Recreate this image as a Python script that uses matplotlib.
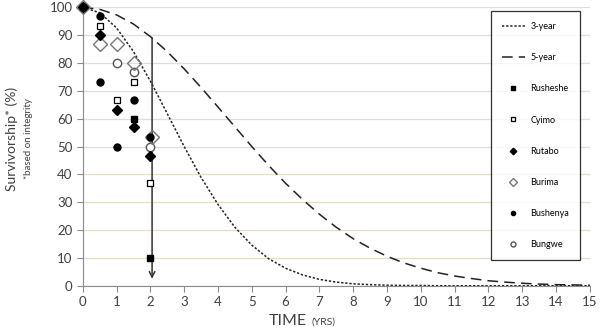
import matplotlib.pyplot as plt

# model curves (survivorship %, every half year)
t_curve = [0, 0.5, 1, 1.5, 2, 2.5, 3, 3.5, 4, 4.5, 5, 5.5, 6, 6.5, 7, 7.5,
           8, 8.5, 9, 9.5, 10, 10.5, 11, 11.5, 12, 12.5, 13, 13.5, 14, 14.5, 15]
three_year = [100, 98.1, 92.6, 84.1, 73.5, 61.8, 50, 38.9, 29.2, 21.0, 14.6, 9.7,
              6.3, 3.9, 2.3, 1.3, 0.7, 0.4, 0.2, 0.1, 0.1, 0, 0, 0, 0, 0, 0, 0, 0, 0, 0]
five_year = [100, 99.3, 97.3, 94.0, 89.5, 84.1, 77.9, 71.2, 64.2, 57.1, 50, 43.2,
             36.8, 31.0, 25.7, 21.0, 16.9, 13.5, 10.6, 8.2, 6.3, 4.7, 3.5, 2.6,
             1.8, 1.3, 0.9, 0.6, 0.4, 0.3, 0.2]

# observed survivorship per site
rusheshe_t = [0, 1.5, 2]
rusheshe = [100, 60, 10]
cyimo_t = [0, 0.5, 1, 1.5, 2]
cyimo = [100, 93.3, 66.7, 73.3, 37]
rutabo_t = [0, 0.5, 1, 1.5, 2]
rutabo = [100, 90, 63.3, 57, 46.7]
burima_t = [0, 0.5, 1, 1.5, 2.05]
burima = [100, 86.7, 86.7, 80, 53.3]
bushenya_t = [0, 0.5, 0.5, 1, 1.5, 2]
bushenya = [100, 97, 73.3, 50, 66.7, 53.3]
bungwe_t = [0, 1, 1.5, 2]
bungwe = [100, 80, 76.7, 50]

plt.rcParams['font.family'] = ['Lato', 'DejaVu Sans']

fig = plt.figure(figsize=(6, 3.35), dpi=100)
ax = fig.add_axes([0.138, 0.147, 0.845, 0.831])

ink = '#222222'
ax.plot(t_curve, three_year, color=ink, lw=1.1, ls=(0, (1.5, 1.2)), label='3-year')
ax.plot(t_curve, five_year, color=ink, lw=1.1, ls=(0, (7, 4)), label='5-year')

pts = dict(ls='none', clip_on=False, zorder=4)
ax.plot(rusheshe_t, rusheshe, marker='s', ms=4, color='black', label='Rusheshe', **pts)
ax.plot(cyimo_t, cyimo, marker='s', ms=4, mfc='white', mec='black', mew=0.9, label='Cyimo', **pts)
ax.plot(bungwe_t, bungwe, marker='o', ms=6, mfc='white', mec='#555555', mew=1, label='Bungwe', **pts)
ax.plot(burima_t, burima, marker='D', ms=7, mfc='none', mec='#777777', mew=1, label='Burima', **pts)
ax.plot(bushenya_t, bushenya, marker='o', ms=5, color='black', label='Bushenya', **pts)
ax.plot(rutabo_t, rutabo, marker='D', ms=5.5, color='black', label='Rutabo', **pts)

# drop from the 5-year curve at 2 years
ax.annotate('', xy=(2.05, 1.5), xytext=(2.05, 90),
            arrowprops=dict(arrowstyle='->', color='#333333', lw=1.1, mutation_scale=10))

ax.set_xlim(0, 15)
ax.set_ylim(0, 100)
ax.set_xticks(range(16))
ax.set_yticks(range(0, 101, 10))
ax.yaxis.grid(True, color='#e2dec8', lw=0.9)
ax.set_axisbelow(True)
for s in ['top', 'right']:
    ax.spines[s].set_visible(False)
for s in ['left', 'bottom']:
    ax.spines[s].set_color('#8a8a8a')
ax.tick_params(axis='both', colors='#8a8a8a', labelcolor='#404040', labelsize=9.5,
               length=4, direction='out')

fig.text(0.02, 0.585, 'Survivorship* (%)', rotation=90, ha='center', va='center',
         fontsize=10, color='#404040')
fig.text(0.047, 0.585, '*based on integrity', rotation=90, ha='center', va='center',
         fontsize=7, color='#404040')
fig.text(0.512, 0.03, 'TIME', ha='right', va='baseline', fontsize=11.5, color='#404040')
fig.text(0.52, 0.03, '(YRS)', ha='left', va='baseline', fontsize=7.5, color='#404040')

handles, labels = ax.get_legend_handles_labels()
order = ['3-year', '5-year', 'Rusheshe', 'Cyimo', 'Rutabo', 'Burima', 'Bushenya', 'Bungwe']
lookup = dict(zip(labels, handles))
leg = fig.legend([lookup[k] for k in order], order, loc='upper left',
                 bbox_to_anchor=(0.818, 0.966),
                 fontsize=6.5, frameon=True, fancybox=False, edgecolor='black',
                 handlelength=2.6, handletextpad=0.6, labelspacing=2.45,
                 borderpad=1.2, markerscale=0.6, borderaxespad=0)
leg.get_frame().set_linewidth(0.9)

fig.savefig('out.png', dpi=100)
